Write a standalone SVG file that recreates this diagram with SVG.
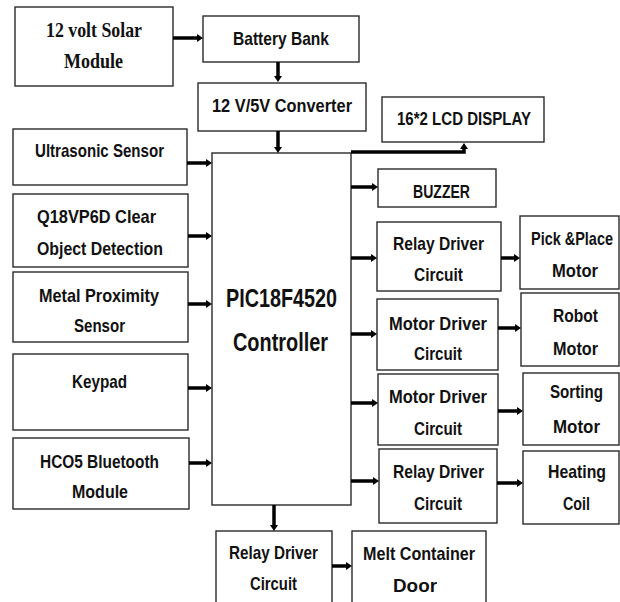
<svg xmlns="http://www.w3.org/2000/svg" width="620" height="602" viewBox="0 0 620 602">
<style>
.b{fill:#fff;stroke:#2a2a2a;stroke-width:1.4}
.t{font-family:"Liberation Sans",Arial,sans-serif;font-weight:bold;font-size:19px;fill:#111}
.s{font-family:"Liberation Serif","Times New Roman",serif;font-weight:bold;font-size:21px;fill:#111}
.big{font-size:25px}
.c{fill:none;stroke:#000;stroke-width:3.5}
</style>
<defs>
<marker id="ah" viewBox="0 0 6 8" markerWidth="6" markerHeight="8" refX="2" refY="4" orient="auto" markerUnits="userSpaceOnUse">
<path d="M0,0 L6,4 L0,8 z" fill="#000"/>
</marker>
</defs>
<rect width="620" height="602" fill="#fff"/>
<g id="solar"><rect class="b" x="15" y="7" width="158" height="79"/><text class="s" x="46" y="37" textLength="96" lengthAdjust="spacingAndGlyphs">12 volt Solar</text><text class="s" x="64" y="68" textLength="59" lengthAdjust="spacingAndGlyphs">Module</text></g>
<g id="battery"><rect class="b" x="203" y="16" width="156" height="46"/><text class="t" x="233" y="45" textLength="96" lengthAdjust="spacingAndGlyphs">Battery Bank</text></g>
<g id="converter"><rect class="b" x="198" y="83" width="168" height="48"/><text class="t" x="212" y="112" textLength="140" lengthAdjust="spacingAndGlyphs">12 V/5V Converter</text></g>
<g id="lcd"><rect class="b" x="382" y="97" width="162" height="45"/><text class="t" x="397" y="125" textLength="134" lengthAdjust="spacingAndGlyphs">16*2 LCD DISPLAY</text></g>
<g id="controller"><rect class="b" x="212" y="153" width="139" height="352"/><text class="t big" x="226" y="307" textLength="111" lengthAdjust="spacingAndGlyphs">PIC18F4520</text><text class="t big" x="233" y="351" textLength="95" lengthAdjust="spacingAndGlyphs">Controller</text></g>
<g id="buzzer"><rect class="b" x="378" y="169" width="118" height="38"/><text class="t" x="413" y="198" textLength="57" lengthAdjust="spacingAndGlyphs">BUZZER</text></g>
<g id="relay1"><rect class="b" x="377" y="222" width="124" height="69"/><text class="t" x="393" y="250" textLength="91" lengthAdjust="spacingAndGlyphs">Relay Driver</text><text class="t" x="414" y="281" textLength="49" lengthAdjust="spacingAndGlyphs">Circuit</text></g>
<g id="pickplace"><rect class="b" x="520" y="216" width="99" height="73"/><text class="t" x="531" y="245" textLength="82" lengthAdjust="spacingAndGlyphs">Pick &amp;Place</text><text class="t" x="552" y="277" textLength="46" lengthAdjust="spacingAndGlyphs">Motor</text></g>
<g id="motor1"><rect class="b" x="377" y="299" width="121" height="71"/><text class="t" x="389" y="330" textLength="98" lengthAdjust="spacingAndGlyphs">Motor Driver</text><text class="t" x="414" y="360" textLength="48" lengthAdjust="spacingAndGlyphs">Circuit</text></g>
<g id="robot"><rect class="b" x="521" y="293" width="98" height="73"/><text class="t" x="553" y="322" textLength="45" lengthAdjust="spacingAndGlyphs">Robot</text><text class="t" x="553" y="355" textLength="45" lengthAdjust="spacingAndGlyphs">Motor</text></g>
<g id="motor2"><rect class="b" x="378" y="374" width="120" height="71"/><text class="t" x="389" y="403" textLength="98" lengthAdjust="spacingAndGlyphs">Motor Driver</text><text class="t" x="414" y="435" textLength="48" lengthAdjust="spacingAndGlyphs">Circuit</text></g>
<g id="sorting"><rect class="b" x="523" y="373" width="96" height="72"/><text class="t" x="550" y="398" textLength="53" lengthAdjust="spacingAndGlyphs">Sorting</text><text class="t" x="553" y="433" textLength="47" lengthAdjust="spacingAndGlyphs">Motor</text></g>
<g id="relay2"><rect class="b" x="379" y="449" width="118" height="74"/><text class="t" x="393" y="478" textLength="91" lengthAdjust="spacingAndGlyphs">Relay Driver</text><text class="t" x="414" y="510" textLength="48" lengthAdjust="spacingAndGlyphs">Circuit</text></g>
<g id="heating"><rect class="b" x="523" y="451" width="96" height="73"/><text class="t" x="548" y="478" textLength="58" lengthAdjust="spacingAndGlyphs">Heating</text><text class="t" x="563" y="510" textLength="27" lengthAdjust="spacingAndGlyphs">Coil</text></g>
<g id="relay3"><rect class="b" x="216" y="531" width="116" height="75"/><text class="t" x="229" y="559" textLength="89" lengthAdjust="spacingAndGlyphs">Relay Driver</text><text class="t" x="250" y="590" textLength="47" lengthAdjust="spacingAndGlyphs">Circuit</text></g>
<g id="melt"><rect class="b" x="352" y="531" width="134" height="75"/><text class="t" x="363" y="560" textLength="112" lengthAdjust="spacingAndGlyphs">Melt Container</text><text class="t" x="393" y="592" textLength="44" lengthAdjust="spacingAndGlyphs">Door</text></g>
<g id="ultrasonic"><rect class="b" x="13" y="129" width="174" height="56"/><text class="t" x="35" y="157" textLength="129" lengthAdjust="spacingAndGlyphs">Ultrasonic Sensor</text></g>
<g id="q18"><rect class="b" x="13" y="194" width="175" height="73"/><text class="t" x="37" y="223" textLength="119" lengthAdjust="spacingAndGlyphs">Q18VP6D Clear</text><text class="t" x="37" y="255" textLength="126" lengthAdjust="spacingAndGlyphs">Object Detection</text></g>
<g id="metal"><rect class="b" x="13" y="272" width="175" height="70"/><text class="t" x="39" y="302" textLength="120" lengthAdjust="spacingAndGlyphs">Metal Proximity</text><text class="t" x="74" y="332" textLength="51" lengthAdjust="spacingAndGlyphs">Sensor</text></g>
<g id="keypad"><rect class="b" x="13" y="354" width="175" height="76"/><text class="t" x="72" y="388" textLength="55" lengthAdjust="spacingAndGlyphs">Keypad</text></g>
<g id="hc05"><rect class="b" x="13" y="438" width="176" height="71"/><text class="t" x="40" y="468" textLength="119" lengthAdjust="spacingAndGlyphs">HCO5 Bluetooth</text><text class="t" x="72" y="498" textLength="56" lengthAdjust="spacingAndGlyphs">Module</text></g>
<g id="connectors">
<path class="c" marker-end="url(#ah)" d="M173,38 H199"/>
<path class="c" marker-end="url(#ah)" d="M278,62 V78"/>
<path class="c" marker-end="url(#ah)" d="M278,131 V149"/>
<path class="c" marker-end="url(#ah)" d="M351,152 H464 V147"/>
<path class="c" marker-end="url(#ah)" d="M351,187 H374"/>
<path class="c" marker-end="url(#ah)" d="M351,258 H373"/>
<path class="c" marker-end="url(#ah)" d="M501,258 H516"/>
<path class="c" marker-end="url(#ah)" d="M351,334 H373"/>
<path class="c" marker-end="url(#ah)" d="M498,328 H517"/>
<path class="c" marker-end="url(#ah)" d="M351,403 H374"/>
<path class="c" marker-end="url(#ah)" d="M498,411 H519"/>
<path class="c" marker-end="url(#ah)" d="M351,481 H375"/>
<path class="c" marker-end="url(#ah)" d="M497,483 H519"/>
<path class="c" marker-end="url(#ah)" d="M274,505 V527"/>
<path class="c" marker-end="url(#ah)" d="M332,566 H348"/>
<path class="c" marker-end="url(#ah)" d="M187,163 H208"/>
<path class="c" marker-end="url(#ah)" d="M188,236 H208"/>
<path class="c" marker-end="url(#ah)" d="M188,304 H208"/>
<path class="c" marker-end="url(#ah)" d="M188,388 H208"/>
<path class="c" marker-end="url(#ah)" d="M189,463 H208"/>
</g>
</svg>
